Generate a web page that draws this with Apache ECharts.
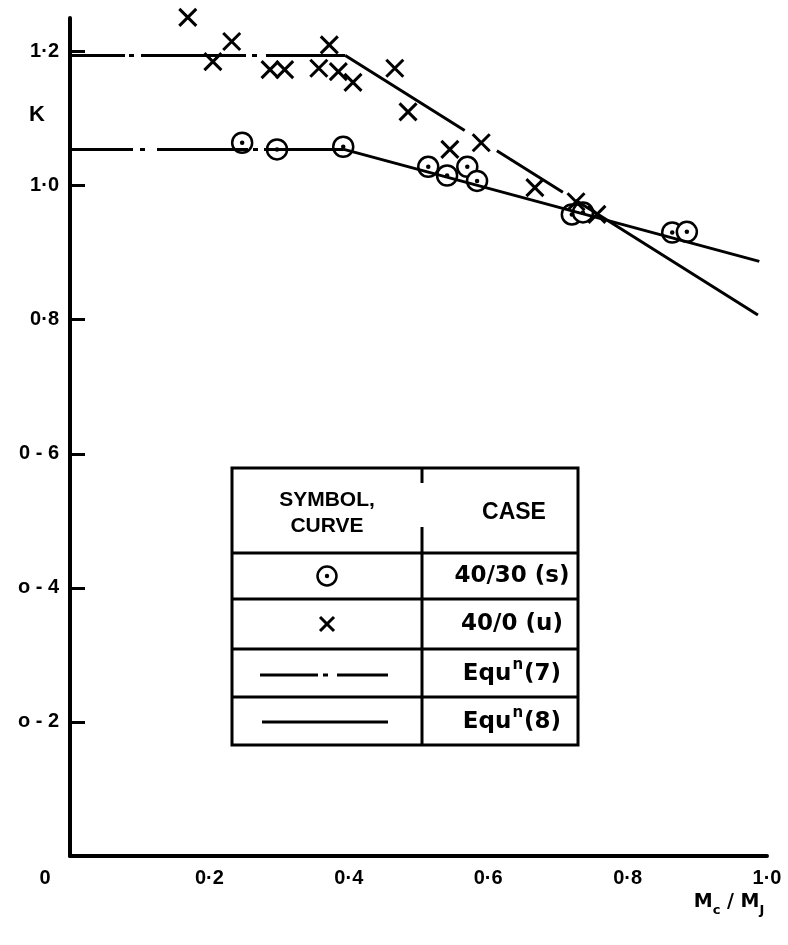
<!DOCTYPE html>
<html><head><meta charset="utf-8">
<script src="https://cdn.jsdelivr.net/npm/echarts@6/dist/echarts.min.js"></script>
<style>html,body{margin:0;padding:0;background:#fff}#c{width:788px;height:945px}</style>
</head><body><div id="c"></div>
<script>
// ---- data ----
const crossX = [0.169,0.205,0.232,0.287,0.308,0.357,0.372,0.385,0.406,0.466,0.485,0.545,0.590,0.667,0.726,0.756];
const crossK = [1.251,1.185,1.215,1.173,1.173,1.175,1.210,1.170,1.154,1.175,1.110,1.054,1.064,0.997,0.976,0.957];
const circX = [0.247,0.297,0.392,0.514,0.541,0.570,0.584,0.720,0.736,0.864,0.885];
const circK = [1.064,1.054,1.058,1.028,1.015,1.028,1.007,0.957,0.960,0.930,0.931];
const upperX = [0, 0.395, 0.987];
const upperK = [1.194, 1.194, 0.807];
const lowerX = [0, 0.393, 0.989];
const lowerK = [1.054, 1.054, 0.887];
const xTickVals = [0, 0.2, 0.4, 0.6, 0.8, 1.0];
const xTickText = ['0', '0·2', '0·4', '0·6', '0·8', '1·0'];
const yTickVals = [0.2, 0.4, 0.6, 0.8, 1.0, 1.2];
const yTickText = ['o - 2', 'o - 4', '0 - 6', '0·8', '1·0', '1·2'];
const legendCases = ['40/30 (s)', '40/0 (u)', 'Equ|7', 'Equ|8'];

const FONT = '"Liberation Sans", Arial, sans-serif';
const RFONT = '"DejaVu Sans", sans-serif';

function pts(xs, ks, i0, i1) { const r = []; for (let i = i0; i <= i1; i++) r.push([xs[i], ks[i]]); return r; }
function lookup(vals, texts, v) { for (let i = 0; i < vals.length; i++) if (Math.abs(vals[i] - v) < 1e-6) return texts[i]; return ''; }

const chart = echarts.init(document.getElementById('c'), null, {renderer: 'canvas'});

// legend table graphics
const TL = 232, TR = 578, TT = 468, TB = 745, TC = 422;
const rowsY = [553, 599, 649, 697, 745];
const g = [];
g.push({type: 'rect', shape: {x: TL, y: TT, width: TR - TL, height: TB - TT}, style: {fill: '#fff', stroke: '#000', lineWidth: 3}, z: 100});
for (let i = 0; i < 4; i++) g.push({type: 'line', shape: {x1: TL, y1: rowsY[i], x2: TR, y2: rowsY[i]}, style: {stroke: '#000', lineWidth: 3}, z: 101});
g.push({type: 'line', shape: {x1: TC, y1: TT, x2: TC, y2: 483}, style: {stroke: '#000', lineWidth: 3}, z: 101});
g.push({type: 'line', shape: {x1: TC, y1: 527, x2: TC, y2: TB}, style: {stroke: '#000', lineWidth: 3}, z: 101});
g.push({type: 'text', x: 327, y: 513, style: {text: 'SYMBOL,\nCURVE', font: 'bold 21px ' + FONT, align: 'center', verticalAlign: 'middle', lineHeight: 26, fill: '#000'}, z: 102});
g.push({type: 'text', x: 514, y: 513, style: {text: 'CASE', font: 'bold 23px ' + FONT, align: 'center', verticalAlign: 'middle', fill: '#000'}, z: 102});
const rowC = [576, 624, 672, 720];
legendCases.forEach((t, i) => {
  let txt = t, rich = undefined;
  if (t.indexOf('|') >= 0) {
    const p = t.split('|');
    txt = '{a|' + p[0] + '}{s|n}{a|(' + p[1] + ')}';
    rich = {a: {font: 'bold 23px ' + RFONT, lineHeight: 28, verticalAlign: 'bottom'}, s: {font: 'bold 15px ' + RFONT, lineHeight: 28, verticalAlign: 'top', padding: [0, 1, 0, 1]}};
  }
  g.push({type: 'text', x: 512, y: rowC[i], style: {text: txt, rich: rich, font: 'bold 23px ' + RFONT, align: 'center', verticalAlign: 'middle', fill: '#000'}, z: 102});
});
// symbol column
g.push({type: 'circle', shape: {cx: 327, cy: 576, r: 9.5}, style: {fill: '#fff', stroke: '#000', lineWidth: 2.5}, z: 102});
g.push({type: 'circle', shape: {cx: 327, cy: 576, r: 2.2}, style: {fill: '#000'}, z: 103});
g.push({type: 'line', shape: {x1: 320, y1: 617, x2: 334, y2: 631}, style: {stroke: '#000', lineWidth: 3}, z: 102});
g.push({type: 'line', shape: {x1: 334, y1: 617, x2: 320, y2: 631}, style: {stroke: '#000', lineWidth: 3}, z: 102});
g.push({type: 'line', shape: {x1: 260, y1: 675, x2: 388, y2: 675}, style: {stroke: '#000', lineWidth: 3, lineDash: [58, 5, 5, 9, 60]}, z: 102});
g.push({type: 'line', shape: {x1: 262, y1: 722, x2: 388, y2: 722}, style: {stroke: '#000', lineWidth: 3}, z: 102});
// axis titles
g.push({type: 'text', x: 37, y: 115, style: {text: 'K', font: 'bold 22px ' + FONT, align: 'center', verticalAlign: 'middle', fill: '#000'}, z: 50});
g.push({type: 'text', x: 729, y: 905, style: {
  text: '{m|M}{b|c}{m| / M}{b|J}',
  rich: {m: {font: 'bold 19px ' + RFONT, lineHeight: 24, verticalAlign: 'top'}, b: {font: 'bold 13px ' + RFONT, lineHeight: 24, verticalAlign: 'bottom'}},
  align: 'center', verticalAlign: 'middle', fill: '#000'}, z: 50});

const lw = 3;
const option = {
  animation: false,
  backgroundColor: '#fff',
  grid: {left: 70, right: 21, top: 18, bottom: 89, containLabel: false, outerBoundsMode: 'none'},
  xAxis: {
    type: 'value', min: 0, max: 1, interval: 0.2,
    axisLine: {show: true, onZero: false, lineStyle: {color: '#000', width: 4}},
    axisTick: {show: false}, splitLine: {show: false},
    axisLabel: {
      margin: 12, color: '#000', fontWeight: 'bold', fontSize: 20, fontFamily: FONT,
      formatter: v => { const t = lookup(xTickVals, xTickText, v); return v === 0 ? '{z|' + t + '}' : t; },
      rich: {z: {padding: [0, 50, 0, 0], fontWeight: 'bold', fontSize: 20, fontFamily: FONT, color: '#000'}}
    }
  },
  yAxis: {
    type: 'value', min: 0, max: 1.25, interval: 0.2,
    axisLine: {show: true, onZero: false, lineStyle: {color: '#000', width: 4}},
    axisTick: {show: true, inside: true, length: 15, customValues: yTickVals, lineStyle: {color: '#000', width: 3}},
    splitLine: {show: false},
    axisLabel: {
      customValues: yTickVals, margin: 11, color: '#000', fontWeight: 'bold', fontSize: 20, fontFamily: FONT,
      formatter: v => lookup(yTickVals, yTickText, v)
    }
  },
  graphic: g,
  series: [
    {type: 'line', data: pts(upperX, upperK, 0, 1), symbol: 'none', silent: true,
     lineStyle: {color: '#000', width: lw, type: [55, 4, 5, 7, 105, 6, 5, 9, 300]}},
    {type: 'line', data: pts(upperX, upperK, 1, 2), symbol: 'none', silent: true,
     lineStyle: {color: '#000', width: lw, type: [141, 38, 78, 15, 500]}},
    {type: 'line', data: pts(lowerX, lowerK, 0, 1), symbol: 'none', silent: true,
     lineStyle: {color: '#000', width: lw, type: [63, 7, 5, 12, 91, 5, 5, 6, 300]}},
    {type: 'line', data: pts(lowerX, lowerK, 1, 2), symbol: 'none', silent: true,
     lineStyle: {color: '#000', width: lw, type: 'solid'}},
    {type: 'scatter', name: '40/30 (s)', data: circX.map((x, i) => [x, circK[i]]), symbol: 'circle', symbolSize: 20, clip: false,
     itemStyle: {color: '#fff', borderColor: '#000', borderWidth: 2.5, opacity: 1}},
    {type: 'scatter', data: circX.map((x, i) => [x, circK[i]]), symbol: 'circle', symbolSize: 4.5, clip: false,
     itemStyle: {color: '#000', opacity: 1}},
    {type: 'scatter', name: '40/0 (u)', data: crossX.map((x, i) => [x, crossK[i]]), symbol: 'path://M0,0L10,10M10,0L0,10', symbolSize: 17, clip: false,
     itemStyle: {color: 'rgba(0,0,0,0)', borderColor: '#000', borderWidth: 3, opacity: 1}}
  ]
};
chart.setOption(option);
</script>
</body></html>
